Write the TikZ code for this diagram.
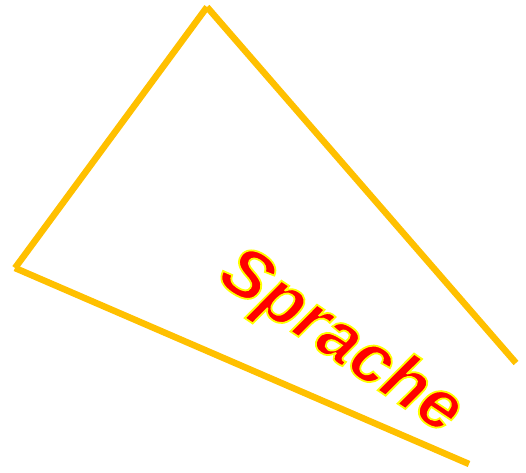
\documentclass[tikz,border=0pt]{standalone}
\usepackage{fontspec}
\setmainfont{Liberation Sans}
\newfontfamily\wordfont{Liberation Sans Bold Italic}
\usepackage{xcolor}
\usepackage{tikz}
\usetikzlibrary{positioning,calc}

\definecolor{frameorange}{HTML}{FFC000}
% red fill, yellow stroke round the glyphs
\newcommand{\outlined}[1]{\special{pdf:literal direct 2 Tr 1.8 w 1 1 0 RG}#1\special{pdf:literal direct 0 Tr}}

\begin{document}
\begin{tikzpicture}[
  x=1pt, y=1pt,
  edge/.style={draw=frameorange, line width=6.5pt, line cap=butt},
  label/.style={font=\wordfont\fontsize{70}{70}\selectfont, text=red, rotate=-34, inner sep=0pt}
]
\useasboundingbox (0,0) rectangle (526,472);

% Corners
\coordinate (low) at (469,8);
\coordinate (left) at (15,204);
\coordinate (top) at (207,465);
\coordinate (right) at (516,109);

% Frame
\draw[edge] (low) -- (left);
\draw[edge] (left) -- (top);
\draw[edge] (top) -- (right);

% Text
\node[label] (word) at (340,129) {\outlined{Sprache}};

\end{tikzpicture}
\end{document}
